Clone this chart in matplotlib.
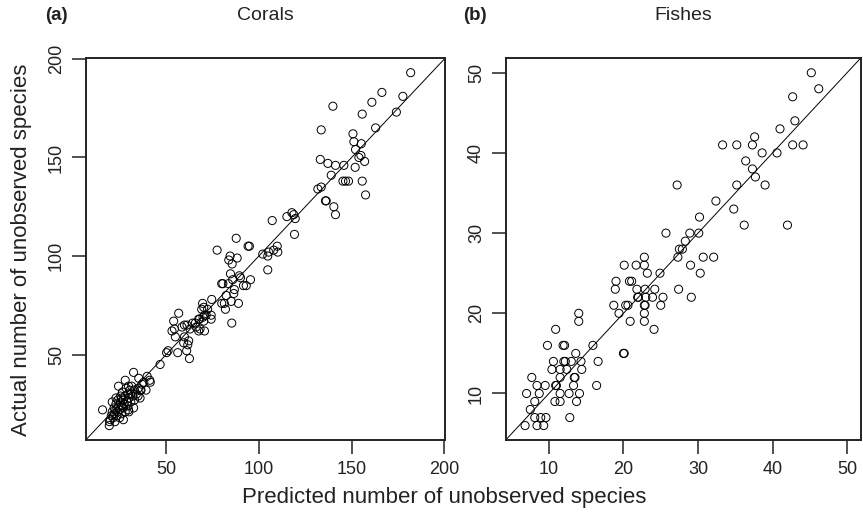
import matplotlib
matplotlib.use("Agg")
import matplotlib.pyplot as plt

plt.rcParams['font.family'] = ['Liberation Sans Narrow', 'Liberation Sans', 'DejaVu Sans']

# ---------------- data ----------------
coral_pred = [
    181.8, 166.3, 160.9, 177.6, 139.9, 155.7, 174.1, 133.6, 162.9, 150.7, 151.2, 155.2, 152.1, 153.9, 155.0,
    157.0, 151.9, 133.1, 137.2, 141.3, 145.8, 139.0, 145.3, 146.7, 148.3, 155.7, 157.5, 133.6, 131.8, 135.9,
    136.3, 140.4, 141.3, 107.2, 115.1, 117.8, 118.8, 119.6, 119.2, 94.9, 102.1, 104.8, 108.0, 110.2, 104.8,
    87.8, 77.5, 94.2, 84.5, 83.8, 88.3, 85.6, 105.3, 109.9, 84.7, 90.1, 85.9, 95.5, 91.7, 80.0, 80.6, 83.6,
    86.8, 86.5, 82.4, 81.4, 80.0, 85.1, 89.0, 82.0, 74.6, 69.7, 70.3, 69.2, 74.3, 71.6, 69.9, 68.0, 85.4,
    72.4, 89.5, 93.2,
    46.8, 50.3, 51.1, 56.3, 61.1, 62.6, 61.7, 59.5, 62.2, 55.0, 59.9, 53.2, 54.5, 58.6, 59.9, 62.9, 61.3,
    54.1, 56.8, 64.3, 66.2, 68.3, 70.7, 67.6, 70.7, 74.3, 65.8, 70.3, 67.6,
    15.8, 19.4, 20.0, 19.5, 32.5, 35.3, 39.8, 41.2, 41.5, 28.0, 29.8, 30.5, 36.5, 39.2, 34.9, 24.4, 29.8,
    36.1, 20.5, 21.0, 21.5, 22.0, 22.0, 22.5, 23.0, 23.0, 23.5, 24.0, 24.0, 24.5, 25.0, 25.0, 25.5, 25.5,
    26.0, 26.0, 26.5, 27.0, 27.0, 27.5, 28.0, 28.0, 28.5, 29.0, 29.5, 29.5, 30.0, 31.0, 31.0, 31.5, 32.0,
    32.5, 33.0, 33.0, 34.0, 35.0, 36.0, 37.0, 38.0, 26.0, 23.0, 21.0, 27.0, 30.0,
]
coral_actual = [
    193, 183, 178, 181, 176, 172, 173, 164, 165, 162, 158, 157, 154, 150, 151,
    148, 145, 149, 147, 146, 146, 141, 138, 138, 138, 138, 131, 135, 134, 128,
    128, 125, 121, 118, 120, 122, 121, 119, 111, 105, 101, 100, 103, 102, 93,
    109, 103, 105, 100, 98, 99, 96, 102, 105, 91, 89, 88, 88, 85, 86, 86, 86,
    83, 81, 80, 76, 76, 77, 76, 73, 78, 76, 74, 73, 70, 70, 69, 68, 66,
    73, 90, 85,
    45, 51, 52, 51, 52, 48, 55, 56, 57, 59, 59, 62, 63, 64, 65, 63, 65,
    67, 71, 66, 64, 63, 62, 68, 70, 68, 66, 67, 62,
    22, 14, 17, 16, 41, 38, 39, 37, 36, 37, 34, 32, 32, 32, 29, 34, 22,
    32, 19, 21, 18, 23, 20, 16, 22, 25, 19, 21, 27, 24, 18, 22, 26, 29,
    24, 20, 31, 23, 27, 25, 29, 21, 33, 26, 30, 24, 28, 30, 26, 34, 29,
    23, 32, 27, 30, 33, 28, 35, 36, 28, 28, 26, 17, 21,
]

fish_pred = [
    6.8, 8.4, 9.3,
    8.1, 8.9, 9.6, 12.8,
    7.5,
    8.1, 10.8, 11.5, 13.7,
    7.0, 8.7, 11.5, 12.7, 14.1,
    8.4, 9.5, 10.9, 11.0, 13.3, 16.4,
    7.7, 11.5, 13.4, 13.5,
    10.4, 11.5, 12.4, 14.4,
    10.6, 12.0, 12.2, 13.0, 14.3, 16.6,
    13.6, 20.0, 20.1,
    9.8, 11.9, 12.1, 15.9,
    10.9, 24.1,
    14.0, 20.9, 22.8,
    14.0, 19.4, 22.8,
    18.7, 20.3, 20.6, 22.8, 22.9, 25.0,
    21.9, 22.0, 23.0, 23.9, 25.3, 29.1,
    18.9, 21.8, 22.9, 24.2, 27.4,
    19.0, 20.8, 21.1,
    23.2, 24.9, 30.3,
    20.1, 21.7, 22.8, 29.0,
    22.8, 27.3, 30.7, 32.1,
    27.5, 27.9,
    28.3,
    25.7, 28.9, 30.1,
    36.2, 42.0,
    30.2,
    34.8,
    32.4,
    27.2, 35.2, 39.0,
    37.7,
    37.3,
    36.4,
    38.6, 40.6,
    33.3, 35.2, 37.3, 42.7, 44.1,
    37.6,
    41.0,
    43.0,
    42.7,
    46.2,
    45.2,
]
fish_actual = [
    6, 6, 6,
    7, 7, 7, 7,
    8,
    9, 9, 9, 9,
    10, 10, 10, 10, 10,
    11, 11, 11, 11, 11, 11,
    12, 12, 12, 12,
    13, 13, 13, 13,
    14, 14, 14, 14, 14, 14,
    15, 15, 15,
    16, 16, 16, 16,
    18, 18,
    19, 19, 19,
    20, 20, 20,
    21, 21, 21, 21, 21, 21,
    22, 22, 22, 22, 22, 22,
    23, 23, 23, 23, 23,
    24, 24, 24,
    25, 25, 25,
    26, 26, 26, 26,
    27, 27, 27, 27,
    28, 28,
    29,
    30, 30, 30,
    31, 31,
    32,
    33,
    34,
    36, 36, 36,
    37,
    38,
    39,
    40, 40,
    41, 41, 41, 41, 41,
    42,
    43,
    44,
    47,
    48,
    50,
]

coral_lim = (6.7, 200.3)
fish_lim = (4.2, 51.8)
coral_ticks = [50, 100, 150, 200]
fish_ticks = [10, 20, 30, 40, 50]
titles = ["Corals", "Fishes"]
letters = ["(a)", "(b)"]
xlabel = "Predicted number of unobserved species"
ylabel = "Actual number of unobserved species"

# ---------------- figure ----------------
W, H = 863, 520
fig = plt.figure(figsize=(W / 100, H / 100), dpi=100)

axa = fig.add_axes([85.7 / W, 1 - 440 / H, (445 - 85.7) / W, (440 - 58.3) / H])
axb = fig.add_axes([505.7 / W, 1 - 440 / H, (860.5 - 505.7) / W, (440 - 58.3) / H])

panels = [
    (axa, coral_pred, coral_actual, coral_lim, coral_ticks),
    (axb, fish_pred, fish_actual, fish_lim, fish_ticks),
]
for ax, xs, ys, lim, ticks in panels:
    ax.plot(lim, lim, color='black', lw=0.7, zorder=1)
    ax.scatter(xs, ys, s=34, facecolors='none', edgecolors='black', linewidths=0.7, zorder=2)
    ax.set_xlim(lim)
    ax.set_ylim(lim)
    ax.set_xticks(ticks)
    ax.set_yticks(ticks)
    ax.tick_params(direction='out', length=10, width=1.1, labelsize=13, pad=5,
                   top=False, right=False, color='#222222', labelcolor='#222222')
    for lbl in ax.get_yticklabels():
        lbl.set_rotation(90)
        lbl.set_va('center')
    for sp in ax.spines.values():
        sp.set_linewidth(1.4)
        sp.set_color('#222222')

for ax, t in zip([axa, axb], titles):
    bb = ax.get_position()
    fig.text((bb.x0 + bb.x1) / 2, 1 - 16 / H, t, ha='center', va='center', fontsize=14, color='#222222')

fig.text(45 / W, 1 - 16 / H, letters[0], ha='left', va='center', fontsize=13.5, fontweight='bold', color='#222222')
fig.text(463 / W, 1 - 16 / H, letters[1], ha='left', va='center', fontsize=13.5, fontweight='bold', color='#222222')

fig.text(444 / W, 1 - 498 / H, xlabel, ha='center', va='center', fontsize=16, color='#222222')
fig.text(22 / W, 1 - 250 / H, ylabel, ha='center', va='center', rotation=90, fontsize=16, color='#222222')

fig.savefig("out.png", dpi=100)
